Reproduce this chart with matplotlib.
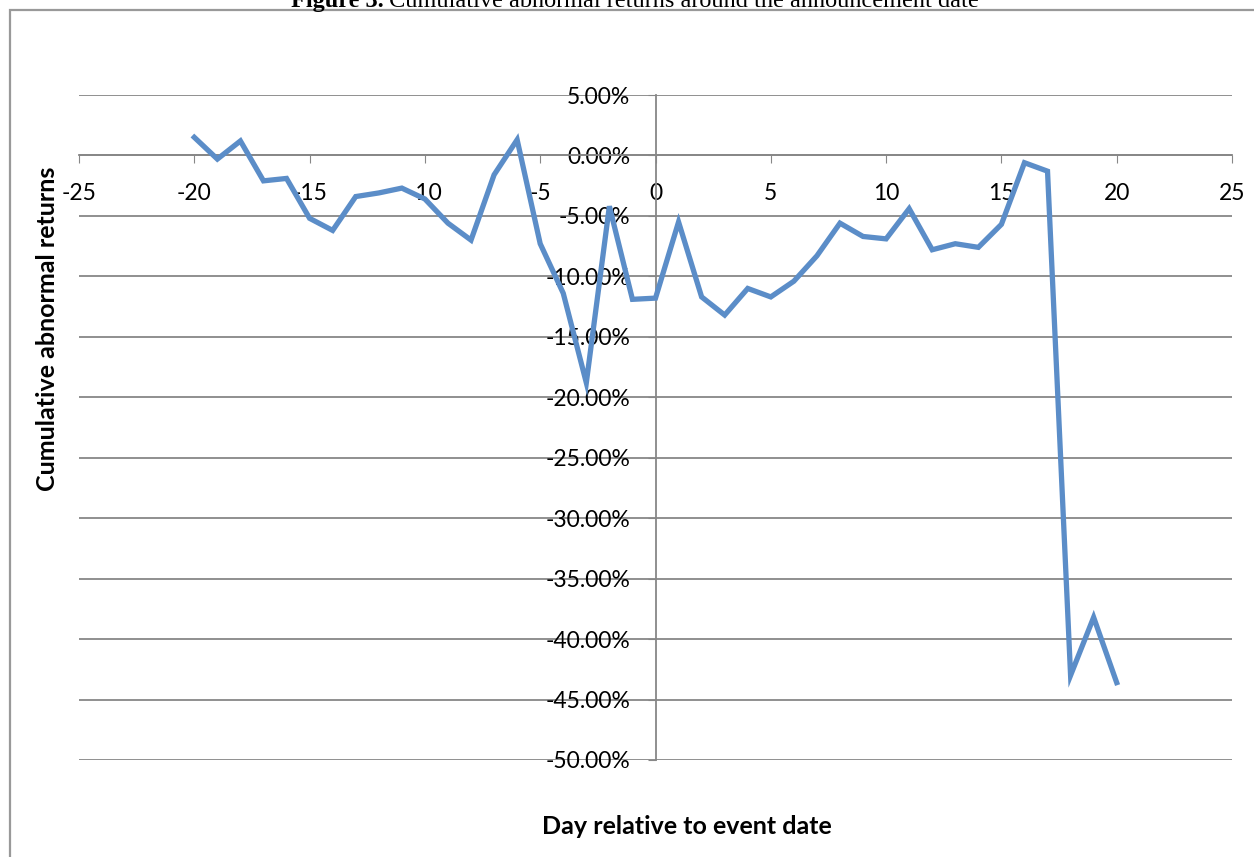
import matplotlib
matplotlib.use("Agg")
import matplotlib.pyplot as plt
from matplotlib.patches import Rectangle

days = list(range(-20, 21))
car = [1.5, -0.3, 1.2, -2.1, -1.9, -5.2, -6.2, -3.4, -3.1, -2.7, -3.6, -5.6, -7.0, -1.6, 1.3,
       -7.3, -11.4, -18.8, -4.2, -11.9, -11.8, -5.5, -11.7, -13.2, -11.0, -11.7, -10.4, -8.3,
       -5.6, -6.7, -6.9, -4.4, -7.8, -7.3, -7.6, -5.7, -0.6, -1.3, -43.0, -38.2, -43.6]
xticks = [-25, -20, -15, -10, -5, 0, 5, 10, 15, 20, 25]
yticks = [5, 0, -5, -10, -15, -20, -25, -30, -35, -40, -45, -50]

W, H = 1254, 857
fig = plt.figure(figsize=(W / 100, H / 100), dpi=100)
grey = "#878787"

# chart frame (cut off on right and bottom like the scan)
fig.patches.append(Rectangle((10 / W, -0.1), 1.2, 1.1 - 10 / H, transform=fig.transFigure,
                             fill=False, edgecolor="#999999", linewidth=1.6))

ax = fig.add_axes([79 / W, 1 - 760 / H, (1232 - 79) / W, (760 - 95) / H])
ax.set_xlim(-25, 25)
ax.set_ylim(-50, 5)

for y in yticks:
    ax.axhline(y, color=grey, linewidth=1.3, zorder=1)

ax.plot(days, car, color="#5b8dc8", linewidth=3.8, solid_joinstyle="miter", zorder=3)

for s in ["top", "right"]:
    ax.spines[s].set_visible(False)
ax.spines["left"].set_position(("data", 0))
ax.spines["bottom"].set_position(("data", 0))
ax.spines["left"].set_color(grey)
ax.spines["bottom"].set_color(grey)
ax.spines["left"].set_linewidth(1.3)
ax.spines["bottom"].set_linewidth(1.3)

ax.set_xticks(xticks)
ax.set_yticks(yticks)
ax.set_xticklabels([str(v) for v in xticks])
ax.set_yticklabels(["%.2f%%" % v for v in yticks])
ax.tick_params(axis="x", direction="out", length=6, color=grey, pad=14, labelsize=16.5)
ax.tick_params(axis="y", direction="out", length=6, color=grey, pad=12, labelsize=16.5)
for lab in ax.get_xticklabels() + ax.get_yticklabels():
    lab.set_fontfamily("Lato")

fig.text(48 / W, 1 - 329 / H, "Cumulative abnormal returns", rotation=90, ha="center", va="center",
         fontsize=18, fontweight="bold", family="Lato")
fig.text(687 / W, 1 - 826 / H, "Day relative to event date", ha="center", va="center",
         fontsize=18, fontweight="bold", family="Lato")

# title, mostly cut off at top of the page
ty = 1 - 7 / H
t1 = fig.text(0, ty, "Figure 3.", fontsize=17.5, fontweight="bold", family="Liberation Serif",
              va="baseline", ha="left")
t2 = fig.text(0, ty, " Cumulative abnormal returns around the announcement date", fontsize=17.5,
              family="Liberation Serif", va="baseline", ha="left")
fig.canvas.draw()
r = fig.canvas.get_renderer()
w1 = t1.get_window_extent(r).width
w2 = t2.get_window_extent(r).width
x0 = 635 - (w1 + w2) / 2
t1.set_x(x0 / W)
t2.set_x((x0 + w1) / W)

fig.savefig("out.png", dpi=100)
